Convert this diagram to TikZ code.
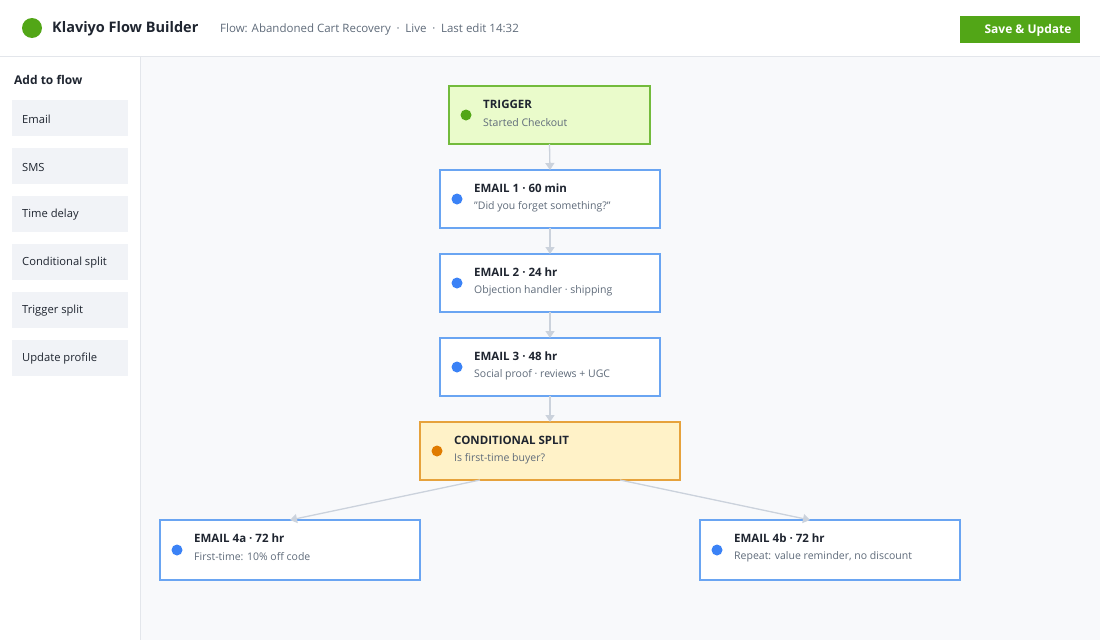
\documentclass[tikz,border=0pt]{standalone}
\usepackage{fontspec}
\setmainfont{Open Sans}
\usetikzlibrary{arrows.meta}
\definecolor{canvasbg}{HTML}{F8F9FB}
\definecolor{rule}{HTML}{E3E6EB}
\definecolor{itembg}{HTML}{F1F3F7}
\definecolor{kgreen}{HTML}{52A617}
\definecolor{trigfill}{HTML}{EAFBCB}
\definecolor{trigline}{HTML}{73BB3C}
\definecolor{mailline}{HTML}{6AA5F2}
\definecolor{maildot}{HTML}{3B82F6}
\definecolor{splitfill}{HTML}{FFF2C8}
\definecolor{splitline}{HTML}{E6A23C}
\definecolor{splitdot}{HTML}{E07B00}
\definecolor{wire}{HTML}{CBD2DC}
\definecolor{subtext}{HTML}{5F6B7A}
\definecolor{ink}{HTML}{1F2530}
\tikzset{
  card/.style={draw=mailline,fill=white,line width=1.5pt},
  cardtitle/.style={anchor=west,font=\fontsize{11.5}{13}\selectfont\bfseries,text=ink,inner sep=0pt},
  cardsub/.style={anchor=west,font=\fontsize{10.5}{12}\selectfont,text=subtext,inner sep=0pt},
  sideitem/.style={fill=itembg,minimum width=116pt,minimum height=36pt,anchor=north west,inner sep=0pt},
  sidetext/.style={anchor=west,font=\fontsize{11.2}{13}\selectfont,text=ink,inner sep=0pt},
  flow/.style={draw=wire,line width=1.3pt,-{Triangle[length=7pt,width=9pt]}},
}
% one card: name, x0, y0, x1, y1, style, dot, title, subtitle
\newcommand{\flowcard}[9]{%
  \draw[#6] (#2,#3) rectangle (#4,#5);
  \coordinate (#1-n) at ({(#2+#4)/2},#3);
  \coordinate (#1-s) at ({(#2+#4)/2},#5);
  \fill[#7] ({#2+17},{(#3+#5)/2}) circle (5.5pt);
  \node[cardtitle] (#1-t) at ({#2+34},{#3+18}) {#8};
  \node[cardsub] (#1-d) at ({#2+34},{#3+37}) {#9};
}
\begin{document}
\begin{tikzpicture}[x=1pt,y=-1pt]
  \useasboundingbox (0,0) rectangle (1100,640);
  \fill[white] (0,0) rectangle (1100,640);
  \fill[canvasbg] (140,56) rectangle (1100,640);
  \draw[rule] (0,56) -- (1100,56);
  \draw[rule] (140,56) -- (140,640);

  % header
  \fill[kgreen] (32,28) circle (10pt);
  \node[anchor=west,inner sep=0pt,font=\fontsize{14.5}{16}\selectfont\bfseries,text=ink] (title) at (52,29) {Klaviyo Flow Builder};
  \node[anchor=west,inner sep=0pt,font=\fontsize{11.5}{13}\selectfont,text=subtext] (meta) at (220,30) {Flow: Abandoned Cart Recovery\enspace·\enspace Live\enspace·\enspace Last edit 14:32};
  \fill[kgreen] (960,16) rectangle (1080,43);
  \node[font=\fontsize{12}{14}\selectfont\bfseries,text=white] (save) at (1028,30.5) {Save \& Update};

  % sidebar
  \node[anchor=west,inner sep=0pt,font=\fontsize{12}{14}\selectfont\bfseries,text=ink] (add) at (14,80) {Add to flow};
  \foreach \lbl [count=\i from 0] in {Email,SMS,Time delay,Conditional split,Trigger split,Update profile} {
    \node[sideitem] (item\i) at (12,100+48*\i) {};
    \node[sidetext] at (22,119+48*\i) {\lbl};
  }

  % flow
  \flowcard{trig}{449}{86}{650}{144}{draw=trigline,fill=trigfill,line width=1.5pt}{kgreen}{TRIGGER}{Started Checkout}
  \flowcard{mail1}{440}{170}{660}{228}{card}{maildot}{EMAIL 1 · 60 min}{"Did you forget something?"}
  \flowcard{mail2}{440}{254}{660}{312}{card}{maildot}{EMAIL 2 · 24 hr}{Objection handler · shipping}
  \flowcard{mail3}{440}{338}{660}{396}{card}{maildot}{EMAIL 3 · 48 hr}{Social proof · reviews + UGC}
  \flowcard{split}{420}{422}{680}{480}{draw=splitline,fill=splitfill,line width=1.5pt}{splitdot}{CONDITIONAL SPLIT}{Is first-time buyer?}
  \flowcard{mail4a}{160}{520}{420}{580}{card}{maildot}{EMAIL 4a · 72 hr}{First-time: 10\% off code}
  \flowcard{mail4b}{700}{520}{960}{580}{card}{maildot}{EMAIL 4b · 72 hr}{Repeat: value reminder, no discount}

  \coordinate (split-l) at (480,480);
  \coordinate (split-r) at (620,480);
  \coordinate (mail4a-in) at (290,520);
  \coordinate (mail4b-in) at (810,520);

  \draw[flow] (trig-s) -- (mail1-n);
  \draw[flow] (mail1-s) -- (mail2-n);
  \draw[flow] (mail2-s) -- (mail3-n);
  \draw[flow] (mail3-s) -- (split-n);
  \draw[flow] (split-l) -- (mail4a-in);
  \draw[flow] (split-r) -- (mail4b-in);
\end{tikzpicture}
\end{document}
